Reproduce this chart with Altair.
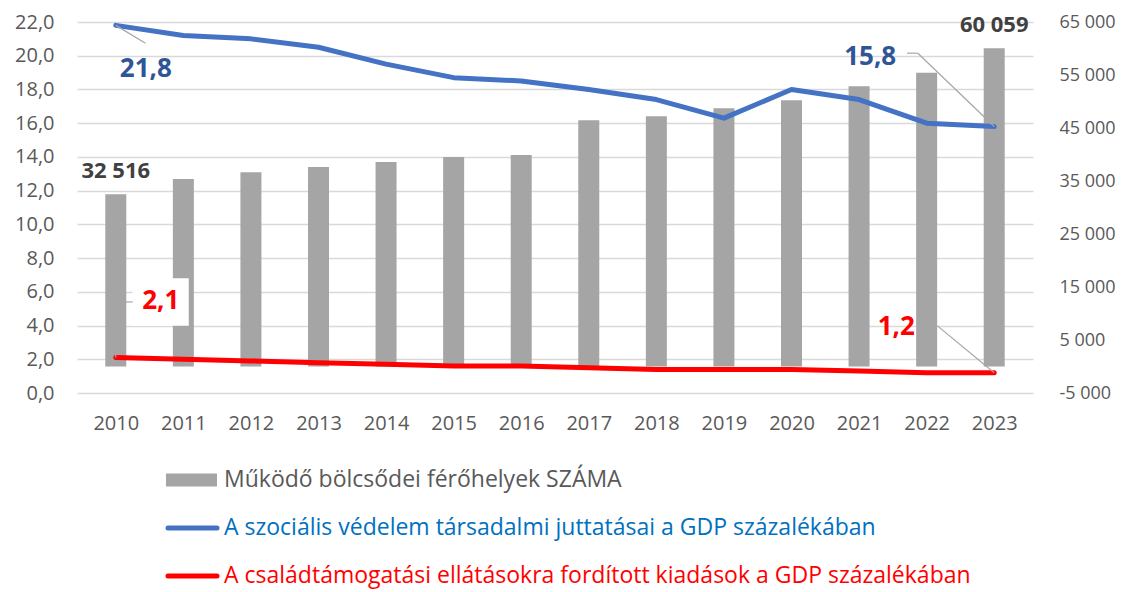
import altair as alt
import pandas as pd

# ---------------- data ----------------
years = list(range(2010, 2024))
places = [32516, 35400, 36660, 37660, 38600, 39550, 39920, 46460, 47210, 48720, 50220, 52860, 55420, 60059]
social = [21.8, 21.2, 21.0, 20.5, 19.5, 18.7, 18.5, 18.0, 17.4, 16.3, 18.0, 17.4, 16.0, 15.8]
family = [2.1, 2.0, 1.9, 1.8, 1.7, 1.6, 1.6, 1.5, 1.4, 1.4, 1.4, 1.3, 1.2, 1.2]

legend_labels = [
    "Működő bölcsődei férőhelyek SZÁMA",
    "A szociális védelem társadalmi juttatásai a GDP százalékában",
    "A családtámogatási ellátásokra fordított kiadások a GDP százalékában",
]
left_ticks = list(range(0, 23, 2))
right_ticks = list(range(-5000, 65001, 10000))

# ---------------- style ----------------
FONT = "Open Sans"
GRAY_BAR = "#A5A5A5"
BLUE = "#4472C4"
BLUE_LBL = "#2F5597"
RED = "#FF0000"
AXIS_TXT = "#595959"
LEGEND_TXT = ["#595959", "#0070C0", "#FF0000"]
W, H = 956, 371

df = pd.DataFrame({"year": years, "places": places, "social": social, "family": family})
legend_df = pd.DataFrame({"label": legend_labels, "row": [0, 1, 2]})

x_scale = alt.Scale(domain=[2009.5, 2023.5], nice=False, zero=False)


def y_left():
    return alt.Scale(domain=[0, 22], nice=False, zero=False)


def y_right():
    return alt.Scale(domain=[-5000, 65000], nice=False, zero=False)


x_axis = alt.Axis(values=years, format="d", title=None, grid=False, ticks=False, domain=False,
                  labelPadding=20, labelFontSize=20, labelColor=AXIS_TXT, labelFont=FONT)
left_axis = alt.Axis(orient="left", values=left_ticks, title=None, grid=True, gridColor="#D9D9D9",
                     gridWidth=1.3, ticks=False, domain=False, labelPadding=23, labelFontSize=20,
                     labelColor=AXIS_TXT, labelFont=FONT,
                     labelExpr="replace(format(datum.value, '.1f'), '.', ',')")
right_axis = alt.Axis(orient="right", values=right_ticks, title=None, grid=False, ticks=False,
                      domain=False, labelPadding=26, labelAlign="left", labelFontSize=18,
                      labelColor=AXIS_TXT, labelFont=FONT,
                      labelExpr="(datum.value < 0 ? '-' : '') + replace(format(abs(datum.value), ','), ',', ' ')")

base = alt.Chart(df)

# ---------------- bars (right axis) ----------------
bars = base.mark_bar(size=21, color=GRAY_BAR).encode(
    x=alt.X("year:Q", scale=x_scale, axis=x_axis),
    y=alt.Y("places:Q", scale=y_right(), axis=right_axis),
    y2=alt.datum(0),
)
bar_labels = base.transform_filter(
    (alt.datum.year == 2010) | (alt.datum.year == 2023)
).transform_calculate(
    lbl="replace(format(datum.places, ','), ',', ' ')"
).mark_text(dy=-23, fontSize=22, fontWeight="bold", color="#404040", font=FONT).encode(
    x=alt.X("year:Q", scale=x_scale),
    y=alt.Y("places:Q", scale=y_right(), axis=None),
    text="lbl:N",
)

# ---------------- lines (left axis) ----------------
lines = base.transform_fold(["social", "family"], as_=["series", "value"]).mark_line(
    strokeWidth=5, strokeJoin="round", strokeCap="round"
).encode(
    x=alt.X("year:Q", scale=x_scale),
    y=alt.Y("value:Q", scale=y_left(), axis=left_axis),
    color=alt.Color("series:N", scale=alt.Scale(domain=["social", "family"], range=[BLUE, RED]), legend=None),
    detail="series:N",
)


def leader(field, year, ax, ay, bx, by):
    return base.transform_filter(alt.datum.year == year).transform_calculate(
        xa=f"datum.year + ({ax})", ya=f"datum.{field} + ({ay})",
        xb=f"datum.year + ({bx})", yb=f"datum.{field} + ({by})",
    ).mark_rule(color="#A6A6A6", strokeWidth=1.2).encode(
        x=alt.X("xa:Q", scale=x_scale),
        y=alt.Y("ya:Q", scale=y_left(), axis=None),
        x2="xb:Q", y2="yb:Q",
    )


def label(field, year, color, dx, dy):
    return base.transform_filter(alt.datum.year == year).transform_calculate(
        lbl=f"replace(format(datum.{field}, '.1f'), '.', ',')"
    ).mark_text(dx=dx, dy=dy, fontSize=26, fontWeight="bold", color=color, font=FONT).encode(
        x=alt.X("year:Q", scale=x_scale),
        y=alt.Y(f"{field}:Q", scale=y_left(), axis=None),
        text="lbl:N",
    )


white_box = base.transform_filter(alt.datum.year == 2010).transform_calculate(
    xa="datum.year + 0.25", xb="datum.year + 1.08",
    ya="datum.family + 1.89", yb="datum.family + 4.71",
).mark_rect(color="white").encode(
    x=alt.X("xa:Q", scale=x_scale), x2="xb:Q",
    y=alt.Y("ya:Q", scale=y_left(), axis=None), y2="yb:Q",
)

# ---------------- legend (below plot) ----------------
leg = alt.Chart(legend_df)
LEG_Y = [458, 506, 554]


def leg_row(i, swatch, width):
    sw = leg.transform_filter(alt.datum.row == i).mark_rule(
        strokeWidth=width, color=swatch, strokeCap=("butt" if i == 0 else "round")
    ).encode(x=alt.value(89 if i == 0 else 91), x2=alt.value(140), y=alt.value(LEG_Y[i]))
    tx = leg.transform_filter(alt.datum.row == i).mark_text(
        align="left", baseline="middle", fontSize=23, font=FONT, color=LEGEND_TXT[i]
    ).encode(x=alt.value(147), y=alt.value(LEG_Y[i]), text="label:N")
    return [sw, tx]


legend_marks = leg_row(0, GRAY_BAR, 13) + leg_row(1, BLUE, 5) + leg_row(2, RED, 5)

chart = alt.layer(
    bars, bar_labels, lines,
    leader("social", 2010, 0, 0, 0.44, -1.06),
    leader("social", 2023, 0, 0, -1.13, 4.35),
    leader("social", 2023, -1.13, 4.35, -1.29, 4.35),
    leader("family", 2023, 0, 0, -0.84, 2.78),
    leader("family", 2010, 0, 0, 0, 3.3),
    white_box,
    leader("family", 2010, 0, 3.3, 0.25, 3.3),
    label("social", 2010, BLUE_LBL, 30, 44),
    label("social", 2023, BLUE_LBL, -124, -70),
    label("family", 2010, RED, 45, -57),
    label("family", 2023, RED, -98, -46),
    *legend_marks,
).resolve_scale(y="independent").properties(
    width=W, height=H,
    autosize=alt.AutoSizeParams(type="none"),
    padding={"left": 69, "top": 14, "right": 87, "bottom": 199},
).configure(font=FONT).configure_view(stroke=None)

chart.save("out.html", embed_options={"renderer": "svg", "actions": False})
